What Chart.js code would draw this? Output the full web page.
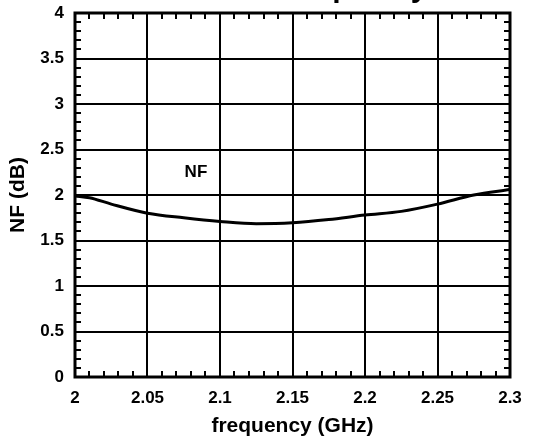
<!DOCTYPE html>
<html>
<head>
<meta charset="utf-8">
<script src="https://cdn.jsdelivr.net/npm/chart.js@4/dist/chart.umd.min.js"></script>
<style>
  html, body { margin: 0; padding: 0; background: #fff; overflow: hidden; }
  #wrap { width: 542px; height: 443px; }
</style>
</head>
<body>
<div id="wrap"><canvas id="nfChart" width="542" height="443"></canvas></div>
<script>
// frequency sweep (GHz) and measured noise figure (dB)
const freq = [2.0, 2.01, 2.025, 2.05, 2.075, 2.1, 2.125, 2.15, 2.175, 2.2, 2.225, 2.25, 2.275, 2.3];
const nf = [1.99, 1.97, 1.90, 1.80, 1.75, 1.71, 1.685, 1.695, 1.73, 1.78, 1.82, 1.90, 2.00, 2.06];

const xTicks = [2, 2.05, 2.1, 2.15, 2.2, 2.25, 2.3];
const xTickLabels = ['2', '2.05', '2.1', '2.15', '2.2', '2.25', '2.3'];
const yTicks = [0, 0.5, 1, 1.5, 2, 2.5, 3, 3.5, 4];
const yTickLabels = ['0', '0.5', '1', '1.5', '2', '2.5', '3', '3.5', '4'];

const chartTitle = 'NF vs. frequency';
const curveLabel = { text: 'NF', x: 2.0834, y: 2.25 };

const FONT = 'Arial, "Liberation Sans", Helvetica, sans-serif';

// frame, inward minor ticks, curve label and the (clipped) title
const framePlugin = {
  id: 'frame',
  afterDraw(chart) {
    const { ctx, chartArea: a, scales } = chart;
    const xs = scales.x, ys = scales.y;
    ctx.save();
    ctx.strokeStyle = '#000';
    ctx.lineWidth = 2;
    ctx.beginPath();
    // x minor ticks every 0.01 GHz
    for (let i = 1; i < 30; i++) {
      if (i % 5 === 0) continue;
      const px = Math.round(xs.getPixelForValue(2 + i * 0.01));
      ctx.moveTo(px, a.bottom); ctx.lineTo(px, a.bottom - 6);
      ctx.moveTo(px, a.top); ctx.lineTo(px, a.top + 6);
    }
    // y minor ticks every 0.1 dB
    for (let i = 1; i < 40; i++) {
      if (i % 5 === 0) continue;
      const py = Math.round(ys.getPixelForValue(i * 0.1));
      ctx.moveTo(a.left, py); ctx.lineTo(a.left + 6, py);
      ctx.moveTo(a.right, py); ctx.lineTo(a.right - 6, py);
    }
    ctx.stroke();

    ctx.lineWidth = 3;
    ctx.strokeRect(a.left, a.top, a.right - a.left, a.bottom - a.top);

    ctx.fillStyle = '#000';
    ctx.font = 'bold 17px ' + FONT;
    ctx.textAlign = 'center';
    ctx.textBaseline = 'middle';
    ctx.fillText(curveLabel.text, xs.getPixelForValue(curveLabel.x), ys.getPixelForValue(curveLabel.y));

    ctx.font = 'bold 30px ' + FONT;
    ctx.textBaseline = 'alphabetic';
    ctx.fillText(chartTitle, (a.left + a.right) / 2 + 14, -3.5);
    ctx.restore();
  }
};

new Chart(document.getElementById('nfChart'), {
  type: 'line',
  data: {
    datasets: [{
      label: 'NF',
      data: freq.map((f, i) => ({ x: f, y: nf[i] })),
      borderColor: '#000',
      borderWidth: 3,
      pointRadius: 0,
      cubicInterpolationMode: 'monotone',
      fill: false
    }]
  },
  options: {
    responsive: false,
    animation: false,
    layout: { padding: { top: 13, right: 32, left: 0, bottom: 0 } },
    plugins: { legend: { display: false }, tooltip: { enabled: false } },
    scales: {
      x: {
        type: 'linear',
        min: 2,
        max: 2.3,
        afterFit(scale) {
          scale.height = 66;
          scale.paddingLeft = 0;
          scale.paddingRight = 0;
        },
        afterBuildTicks(scale) { scale.ticks = xTicks.map(v => ({ value: v })); },
        grid: { color: '#000', lineWidth: 2, drawTicks: false },
        border: { display: false },
        ticks: {
          color: '#000',
          padding: 11,
          maxRotation: 0,
          font: { family: FONT, size: 17, weight: 'bold' },
          callback: (v) => xTickLabels[xTicks.indexOf(v)]
        },
        title: {
          display: true,
          text: 'frequency (GHz)',
          color: '#000',
          padding: { top: 0, bottom: 4 },
          font: { family: FONT, size: 21, weight: 'bold' }
        }
      },
      y: {
        min: 0,
        max: 4,
        afterFit(scale) {
          scale.width = 75;
          scale.paddingTop = 0;
          scale.paddingBottom = 0;
        },
        afterBuildTicks(scale) { scale.ticks = yTicks.map(v => ({ value: v })); },
        grid: { color: '#000', lineWidth: 2, drawTicks: false },
        border: { display: false },
        ticks: {
          color: '#000',
          padding: 11,
          font: { family: FONT, size: 17, weight: 'bold' },
          callback: (v) => yTickLabels[yTicks.indexOf(v)]
        },
        title: {
          display: true,
          text: 'NF (dB)',
          color: '#000',
          padding: { top: 6, bottom: 0 },
          font: { family: FONT, size: 21, weight: 'bold' }
        }
      }
    }
  },
  plugins: [framePlugin]
});
</script>
</body>
</html>
